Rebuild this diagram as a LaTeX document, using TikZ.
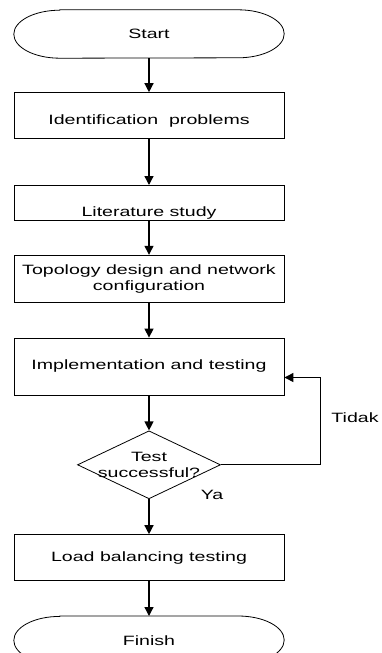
\documentclass[tikz,border=0pt]{standalone}
\usepackage{fontspec}
\setmainfont{Liberation Sans}[FakeStretch=1.45]
\usetikzlibrary{positioning,shapes.geometric,arrows.meta}
\tikzset{node distance=35pt, auto,
  term/.style={rectangle, minimum width=178pt, minimum height=48pt,
    append after command={\pgfextra{\draw[line width=0.8pt] (\tikzlastnode.north west) -- (\tikzlastnode.north east)
      arc[start angle=90, end angle=-90, x radius=46pt, y radius=24pt] -- (\tikzlastnode.south west)
      arc[start angle=270, end angle=90, x radius=46pt, y radius=24pt] -- cycle;}}},
  process/.style={draw, rectangle, minimum width=270pt, inner sep=3pt, line width=0.8pt},
  decision/.style={draw, diamond, minimum width=143pt, minimum height=68pt, inner sep=0pt, line width=0.8pt},
  flow/.style={-{Triangle[length=9pt,width=9pt]}, line width=1.3pt}}

\begin{document}
\begin{tikzpicture}[font=\fontsize{13.5}{16}\selectfont]
\useasboundingbox (0,0) rectangle (381pt,-653pt);
\clip (0,0) rectangle (381pt,-653pt);
\node (start) [term] at (149pt,-34pt) {Start};
\node (ident) [process, minimum height=46pt, text height=20pt, text depth=2pt, below=34pt of start] {Identification\ \ problems};
\node (lit) [process, minimum height=35pt, text height=28pt, text depth=1pt, below=46pt of ident] {Literature study};
\node (topo) [process, minimum height=47pt, align=center, below=34pt of lit] {Topology design and network\\configuration};
\node (impl) [process, minimum height=57pt, below=of topo] {Implementation and testing};
\node (test) [decision, below=of impl] {};
\node (testtxt) [align=center] at (test) {Test\\successful?};
\node (load) [process, minimum height=46pt, below=of test] {Load balancing testing};
\node (finish) [term, below=of load] {Finish};
\coordinate (loop) at ([xshift=100pt]test.east);
\coordinate (back) at ([yshift=-11pt]impl.east);
\node (tidak) at (355pt,-418pt) {Tidak};
\node (ya) at (212pt,-495pt) {Ya};
\draw[flow] (start) -- (ident);
\draw[flow] (ident) -- (lit);
\draw[flow] (lit) -- (topo);
\draw[flow] (topo) -- (impl);
\draw[flow] (impl) -- (test);
\draw[flow] (test) -- (load);
\draw[flow] (load) -- (finish);
\draw[flow, line width=1pt] (test.east) -- (loop) |- (back);
\end{tikzpicture}
\end{document}
